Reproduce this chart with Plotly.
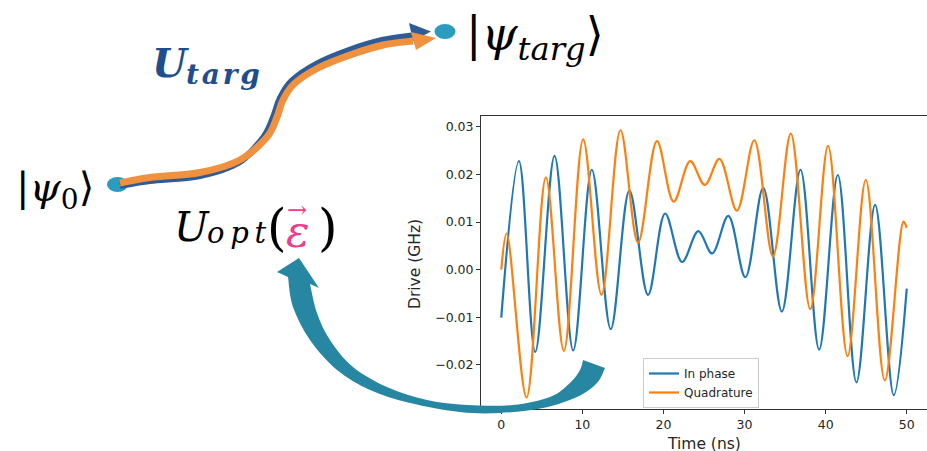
import plotly.graph_objects as go

W, H = 927, 451

# ---- data (extrema / end points of each drive) ----
in_phase_t = [0, 2.18, 4.19, 6.57, 8.87, 11.17, 13.5, 15.8, 18.1, 20.2, 22.3, 24.3,
              26.0, 28.0, 30.1, 32.3, 34.6, 36.9, 39.2, 41.5, 43.8, 46.1, 48.4, 50]
in_phase_v = [-0.0101, 0.0228, -0.0173, 0.0239, -0.0170, 0.0210, -0.0125, 0.0166,
              -0.0053, 0.0118, 0.0016, 0.0081, 0.0034, 0.0113, -0.0016, 0.0172,
              -0.0088, 0.0210, -0.0168, 0.0199, -0.0237, 0.0136, -0.0264, -0.0040]
quad_t = [0, 0.66, 3.12, 5.5, 7.72, 10.1, 12.36, 14.7, 16.87, 19.2, 21.26, 23.3,
          25.1, 26.9, 29.06, 31.2, 33.5, 35.7, 38.1, 40.3, 42.7, 44.95, 47.3, 49.6, 50]
quad_v = [0.0, 0.0076, -0.0269, 0.0194, -0.0171, 0.0274, -0.0053, 0.0293, 0.0057,
          0.0270, 0.0143, 0.0228, 0.0178, 0.0233, 0.0124, 0.0272, 0.0028, 0.0286,
          -0.0083, 0.0260, -0.0182, 0.0189, -0.0233, 0.0101, 0.0088]
x_ticks = [0, 10, 20, 30, 40, 50]
y_ticks = [-0.02, -0.01, 0.0, 0.01, 0.02, 0.03]
series_names = ["In phase", "Quadrature"]


def X(px):
    return px / W


def Y(py):
    return 1 - py / H


def smooth(pts, start=True):
    d = f"M{X(pts[0][0]):.5f},{Y(pts[0][1]):.5f}" if start else ""
    n = len(pts)
    for i in range(n - 1):
        p0 = pts[i - 1] if i > 0 else pts[i]
        p1, p2 = pts[i], pts[i + 1]
        p3 = pts[i + 2] if i + 2 < n else pts[i + 1]
        c1 = (p1[0] + (p2[0] - p0[0]) / 6, p1[1] + (p2[1] - p0[1]) / 6)
        c2 = (p2[0] - (p3[0] - p1[0]) / 6, p2[1] - (p3[1] - p1[1]) / 6)
        d += (f" C{X(c1[0]):.5f},{Y(c1[1]):.5f} {X(c2[0]):.5f},{Y(c2[1]):.5f}"
              f" {X(p2[0]):.5f},{Y(p2[1]):.5f}")
    return d


def poly(pts):
    d = f"M{X(pts[0][0]):.5f},{Y(pts[0][1]):.5f}"
    for p in pts[1:]:
        d += f" L{X(p[0]):.5f},{Y(p[1]):.5f}"
    return d + " Z"


fig = go.Figure()
fig.add_trace(go.Scatter(x=in_phase_t, y=in_phase_v, name=series_names[0], mode="lines",
                         line=dict(color="#1f77b4", width=2.2, shape="spline", smoothing=1)))
fig.add_trace(go.Scatter(x=quad_t, y=quad_v, name=series_names[1], mode="lines",
                         line=dict(color="#ff7f0e", width=2.2, shape="spline", smoothing=1)))

axis_font = dict(family="DejaVu Sans", size=12.5, color="#262626")
fig.update_xaxes(domain=[481 / W, 1], range=[-2.5, 52.5], tickvals=x_ticks,
                 ticks="outside", ticklen=4, tickcolor="#333", showline=True,
                 linecolor="#333", linewidth=1, mirror=True, showgrid=False,
                 zeroline=False, tickfont=axis_font)
fig.update_yaxes(domain=[1 - 409 / H, 1 - 116 / H], range=[-0.0293, 0.0323],
                 tickvals=y_ticks, tickformat=".2f", ticks="outside", ticklen=4,
                 tickcolor="#333", showline=True, linecolor="#333", linewidth=1,
                 mirror=True, showgrid=False, zeroline=False, tickfont=axis_font)

shapes = []
# teal dots
for cx, cy in [(117.5, 184.5), (445, 31.5)]:
    shapes.append(dict(type="circle", xref="paper", yref="paper",
                       x0=X(cx - 10.5), x1=X(cx + 10.5), y0=Y(cy + 7.5), y1=Y(cy - 7.5),
                       fillcolor="#2a9cc0", line=dict(width=0), layer="above"))

orange_pts = [(120, 183), (150, 177.5), (200, 172.5), (240, 160), (267, 137), (277, 117),
              (283, 100), (294, 84), (318, 68), (350, 55), (383, 45), (413, 41)]
blue_off = [(0, 2.5), (0, 3), (0, 3), (-1, 2), (-3, 0), (-3, -1),
            (-3, -1), (-2, -3), (-1, -4), (-1, -4.5), (-1, -4.5), (-1, -5)]
blue_pts = [(p[0] + o[0], p[1] + o[1]) for p, o in zip(orange_pts, blue_off)]
shapes.append(dict(type="path", xref="paper", yref="paper", path=smooth(blue_pts),
                   line=dict(color="#2f5c96", width=7), layer="above"))
shapes.append(dict(type="path", xref="paper", yref="paper",
                   path=poly([(409, 23), (431, 31.5), (413, 41)]),
                   fillcolor="#2f5c96", line=dict(width=0), layer="above"))
shapes.append(dict(type="path", xref="paper", yref="paper", path=smooth(orange_pts),
                   line=dict(color="#f0913f", width=7), layer="above"))
shapes.append(dict(type="path", xref="paper", yref="paper",
                   path=poly([(411, 32), (436, 38), (416, 50)]),
                   fillcolor="#f0913f", line=dict(width=0), layer="above"))

# teal swoosh arrow
inner = [(310, 284), (317, 313), (330, 340), (353, 367), (387, 387), (427, 400),
         (467, 405), (513, 405), (550, 397), (570, 383), (580, 370), (583, 360)]
outer = [(605, 368), (597, 383), (577, 397), (543, 408), (500, 413), (460, 412),
         (410, 403), (370, 390), (337, 370), (310, 340), (293, 307), (288, 277)]
sw = f"M{X(277):.5f},{Y(272):.5f} L{X(299):.5f},{Y(258):.5f} L{X(319):.5f},{Y(288):.5f}"
sw += f" L{X(310):.5f},{Y(284):.5f}" + smooth(inner, start=False)
sw += f" L{X(605):.5f},{Y(368):.5f}" + smooth(outer, start=False) + " Z"
shapes.append(dict(type="path", xref="paper", yref="paper", path=sw,
                   fillcolor="#2787a3", line=dict(width=0), layer="above"))

serif = "DejaVu Serif"
ann = []


def txt(text, x, y, size, color="#000", xanchor="left", angle=0, family=serif):
    ann.append(dict(text=text, x=X(x), y=Y(y), xref="paper", yref="paper",
                    xanchor=xanchor, yanchor="middle", showarrow=False, textangle=angle,
                    font=dict(family=family, size=size, color=color)))


txt("|<i>ψ</i><sub>0</sub>⟩", 14, 190, 40)
txt("|<i>ψ<sub>targ</sub></i>⟩", 464, 38, 46)
txt("<b><i>U</i></b>", 150, 63, 40, color="#1f4e8c")
txt("<b><i>t\u200aa\u200ar\u200ag</i></b>", 184, 75, 28, color="#1f4e8c")
txt("<i>U</i>", 172, 227, 41)
txt("<i>o\u2009p\u2009t</i>", 205, 233, 29)
txt("(", 265, 228, 50)
txt("<i>ε</i>", 284, 231, 44, color="#e8408c")
txt("→", 285, 210, 24, color="#e8408c")
txt(")", 316, 228, 50)

# axis titles
txt("Drive (GHz)", 415, 264, 15.5, color="#262626", xanchor="center", angle=-90,
    family="DejaVu Sans")
txt("Time (ns)", 704, 444, 15.5, color="#262626", xanchor="center", family="DejaVu Sans")

fig.update_layout(
    width=W, height=H, margin=dict(l=0, r=0, t=0, b=0),
    paper_bgcolor="white", plot_bgcolor="white",
    shapes=shapes, annotations=ann,
    legend=dict(x=643 / W, y=1 - 358 / H, xanchor="left", yanchor="top",
                bgcolor="white", bordercolor="#cccccc", borderwidth=1,
                font=dict(family="DejaVu Sans", size=12, color="#262626")),
)

fig.write_html("out.html")
